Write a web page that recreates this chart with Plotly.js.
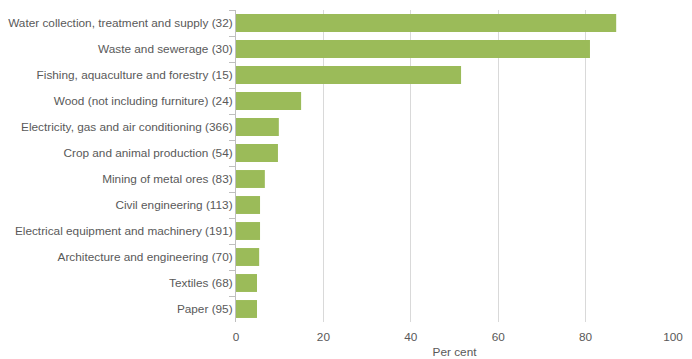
<!DOCTYPE html>
<html>
<head>
<meta charset="utf-8">
<script src="https://cdn.plot.ly/plotly-3.0.1.min.js"></script>
<style>html,body{margin:0;padding:0;background:#fff;}#chart{width:692px;height:359px;}</style>
</head>
<body>
<div id="chart"></div>
<script>
const categories = [
  "Water collection, treatment and supply (32)",
  "Waste and sewerage (30)",
  "Fishing, aquaculture and forestry (15)",
  "Wood (not including furniture) (24)",
  "Electricity, gas and air conditioning (366)",
  "Crop and animal production (54)",
  "Mining of metal ores (83)",
  "Civil engineering (113)",
  "Electrical equipment and machinery (191)",
  "Architecture and engineering (70)",
  "Textiles (68)",
  "Paper (95)"
];
const values = [87.0, 81.0, 51.5, 14.9, 9.8, 9.6, 6.6, 5.5, 5.5, 5.3, 4.8, 4.8];
const xTicks = [0, 20, 40, 60, 80, 100];
const xTitle = "Per cent";

const font = {family: "Liberation Sans Narrow, Arial Narrow, Liberation Sans, sans-serif", size: 11.8, color: "#595959"};

Plotly.newPlot("chart", [{
  type: "bar",
  orientation: "h",
  y: categories,
  x: values,
  marker: {color: "#9BBB59"},
  hoverinfo: "x+y"
}], {
  width: 692, height: 359,
  margin: {l: 236, r: 19, t: 10, b: 37},
  paper_bgcolor: "#fff", plot_bgcolor: "#fff",
  font: font,
  bargap: 0.31,
  showlegend: false,
  xaxis: {
    range: [0, 100], tickvals: xTicks, ticktext: xTicks.map(String),
    showgrid: true, gridcolor: "#d9d9d9", gridwidth: 1,
    zeroline: false, showline: false,
    ticks: "outside", ticklen: 4, tickcolor: "rgba(0,0,0,0)",
    tickfont: font,
    title: {text: xTitle, font: font, standoff: 6}
  },
  yaxis: {
    type: "category", autorange: "reversed",
    showgrid: false, zeroline: false,
    showline: true, linecolor: "#bfbfbf", linewidth: 1,
    ticks: "outside", tickson: "boundaries", ticklen: 6, tickcolor: "#bfbfbf",
    tickfont: font
  }
}, {displayModeBar: false, staticPlot: true});
</script>
</body>
</html>
